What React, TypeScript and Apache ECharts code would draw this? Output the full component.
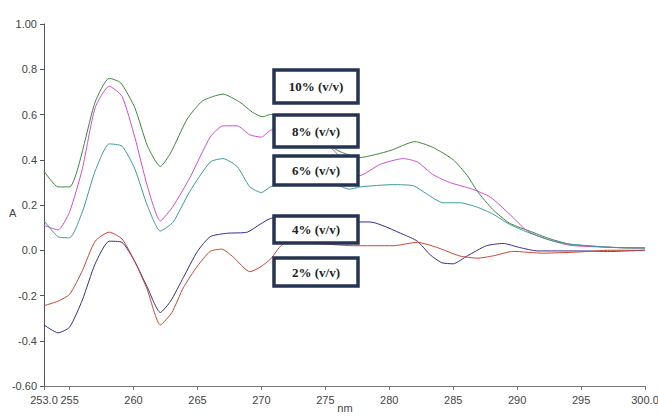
import React, { useEffect, useRef } from "react";
import * as echarts from "echarts";

const xTicks = [253, 255, 260, 265, 270, 275, 280, 285, 290, 295, 300];

const s10: [number, number][] = [
  [253, 0.35], [254.1, 0.28], [255, 0.28], [257, 0.655], [258.1, 0.76], [259, 0.74],
  [260.1, 0.63], [261.1, 0.46], [262.1, 0.37], [262.9, 0.43], [264.2, 0.58], [265.4, 0.66],
  [267, 0.69], [268.3, 0.655], [269.3, 0.61], [270.1, 0.59], [270.7, 0.6], [272, 0.6],
  [274, 0.52], [276, 0.44], [277.7, 0.41], [280.05, 0.44], [282, 0.48], [283.4, 0.455],
  [285, 0.4], [286.1, 0.33], [286.9, 0.26], [288.1, 0.18], [289.4, 0.12], [291.2, 0.08],
  [292.6, 0.05], [294.1, 0.027], [295.9, 0.018], [298.6, 0.01], [300, 0.01],
];

const s8: [number, number][] = [
  [253, 0.11], [254.1, 0.09], [255, 0.17], [256, 0.36], [257, 0.63], [258.1, 0.725],
  [259.1, 0.68], [260.1, 0.5], [261.1, 0.28], [262.1, 0.13], [263.1, 0.195], [264.4, 0.32],
  [266, 0.5], [267, 0.55], [268.1, 0.55], [269.1, 0.51], [270, 0.5], [270.7, 0.53],
  [272, 0.54], [274, 0.5], [275.5, 0.45], [277.7, 0.33], [279.3, 0.38], [281.1, 0.405],
  [282.2, 0.39], [283.4, 0.335], [284.7, 0.3], [286.5, 0.27], [287.9, 0.235], [289.4, 0.16],
  [290.8, 0.085], [292.3, 0.05], [294.1, 0.022], [297.3, 0.013], [300, 0.01],
];

const s6: [number, number][] = [
  [253, 0.13], [254.1, 0.06], [255, 0.055], [256, 0.17], [257, 0.35], [258.1, 0.47],
  [259.1, 0.46], [260.1, 0.36], [261.1, 0.195], [262.1, 0.085], [263.1, 0.125], [264.4, 0.26],
  [266, 0.39], [267, 0.405], [268.1, 0.37], [269.1, 0.28], [270, 0.255], [270.7, 0.28],
  [272, 0.3], [274, 0.34], [275.5, 0.3], [276.9, 0.27], [277.7, 0.28], [280.3, 0.29],
  [281.9, 0.285], [282.9, 0.25], [284.2, 0.21], [285.5, 0.21], [286.9, 0.19], [288.1, 0.16],
  [289.4, 0.115], [290.8, 0.08], [292.6, 0.044], [294.1, 0.027], [297.3, 0.013], [300, 0.01],
];

const s4: [number, number][] = [
  [253, -0.33], [254.1, -0.365], [255, -0.34], [256, -0.22], [257, -0.06], [258.1, 0.04],
  [259.1, 0.035], [260.1, -0.05], [261.05, -0.16], [262.1, -0.275], [262.9, -0.225],
  [263.9, -0.12], [265, -0.005], [266, 0.06], [267.3, 0.075], [268.9, 0.08], [269.9, 0.115],
  [270.7, 0.14], [272, 0.15], [275, 0.14], [277.7, 0.125], [278.5, 0.125], [281.1, 0.07],
  [282.2, 0.04], [283.2, -0.02], [284.1, -0.055], [285, -0.06], [286.1, -0.025], [287.6, 0.02],
  [288.9, 0.03], [290.2, 0.012], [291.6, -0.003], [294.7, -0.003], [297.3, -0.005], [300, 0.0],
];

const s2: [number, number][] = [
  [253, -0.245], [254.1, -0.225], [255, -0.195], [256, -0.09], [257, 0.04], [258.1, 0.08],
  [259.1, 0.05], [260.1, -0.05], [261.05, -0.17], [262.1, -0.33], [263, -0.275],
  [263.9, -0.165], [265, -0.07], [266, -0.005], [266.9, 0.005], [267.8, -0.03],
  [269.1, -0.095], [269.9, -0.075], [270.7, -0.04], [271.8, 0.03], [274, 0.03],
  [277.2, 0.02], [280.3, 0.02], [282.2, 0.035], [283.7, 0.013], [285.5, -0.025],
  [286.9, -0.035], [288.1, -0.025], [289.7, -0.005], [292, -0.013], [294.7, -0.008],
  [297.3, 0.0], [300, 0.0],
];

const seriesNames = ["10% (v/v)", "8% (v/v)", "6% (v/v)", "4% (v/v)", "2% (v/v)"];
const seriesData = [s10, s8, s6, s4, s2];
const seriesColors = ["#3d8a3d", "#d24cd2", "#3a9a9e", "#30308c", "#cc4433"];

// annotation boxes: [label index, top, height]
const boxes: [number, number, number][] = [
  [0, 70, 33],
  [1, 115, 32],
  [2, 156, 29],
  [3, 216, 27],
  [4, 258, 28],
];

export default function App() {
  const ref = useRef<HTMLDivElement>(null);
  useEffect(() => {
    if (!ref.current) return;
    const chart = echarts.init(ref.current, undefined, { renderer: "svg" });
    const graphics: any[] = [];
    boxes.forEach(([i, top, h]) => {
      graphics.push({
        type: "rect",
        shape: { x: 274, y: top, width: 84, height: h },
        style: { fill: "#ffffff", stroke: "#263453", lineWidth: 3.5 },
        z: 100,
      });
      graphics.push({
        type: "text",
        x: 316,
        y: top + h / 2,
        style: {
          text: seriesNames[i],
          fontFamily: "Liberation Serif",
          fontWeight: "bold",
          fontSize: 13,
          fill: "#222222",
          align: "center",
          verticalAlign: "middle",
        },
        z: 101,
      });
    });
    graphics.push({
      type: "text",
      x: 9,
      y: 207,
      style: {
        text: "A",
        fontFamily: "Liberation Sans",
        fontSize: 11,
        fill: "#444444",
      },
    });
    graphics.push({
      type: "text",
      x: 345,
      y: 402,
      style: {
        text: "nm",
        fontFamily: "Liberation Sans",
        fontSize: 11,
        fill: "#444444",
        align: "center",
        verticalAlign: "top",
      },
    });
    const axisText = {
      fontFamily: "Liberation Sans",
      fontSize: 11,
      color: "#444444",
    };
    chart.setOption({
      animation: false,
      backgroundColor: "#ffffff",
      grid: {
        left: 44,
        right: 13,
        top: 24,
        bottom: 30,
        containLabel: false,
        outerBoundsMode: "none",
      },
      xAxis: {
        type: "value",
        min: 253,
        max: 300,
        axisLine: { show: true, onZero: false, lineStyle: { color: "#777777", width: 1 } },
        axisTick: { show: true, length: 4, customValues: xTicks, lineStyle: { color: "#777777" } },
        axisLabel: {
          ...axisText,
          margin: 8,
          customValues: xTicks,
          formatter: (v: number) => (v === 253 || v === 300 ? v.toFixed(1) : String(v)),
        },
        splitLine: { show: false },
      },
      yAxis: {
        type: "value",
        min: -0.6,
        max: 1.0,
        interval: 0.2,
        axisLine: { show: true, lineStyle: { color: "#555555", width: 1 } },
        axisTick: { show: true, length: 4, lineStyle: { color: "#555555" } },
        axisLabel: {
          ...axisText,
          margin: 7,
          formatter: (v: number) => {
            if (Math.abs(v - 1) < 1e-6) return "1.00";
            if (Math.abs(v + 0.6) < 1e-6) return "-0.60";
            return (Math.abs(v) < 1e-6 ? 0 : v).toFixed(1);
          },
        },
        splitLine: { show: false },
      },
      series: seriesData.map((d, i) => ({
        name: seriesNames[i],
        type: "line",
        data: d,
        showSymbol: false,
        symbol: "none",
        lineStyle: { color: seriesColors[i], width: 1 },
        itemStyle: { color: seriesColors[i] },
        smooth: 0.2,
        z: 2,
      })),
      graphic: graphics,
    });
    return () => chart.dispose();
  }, []);
  return (
    <div
      ref={ref}
      style={{ position: "absolute", left: 0, top: 0, width: 658, height: 416 }}
    />
  );
}
